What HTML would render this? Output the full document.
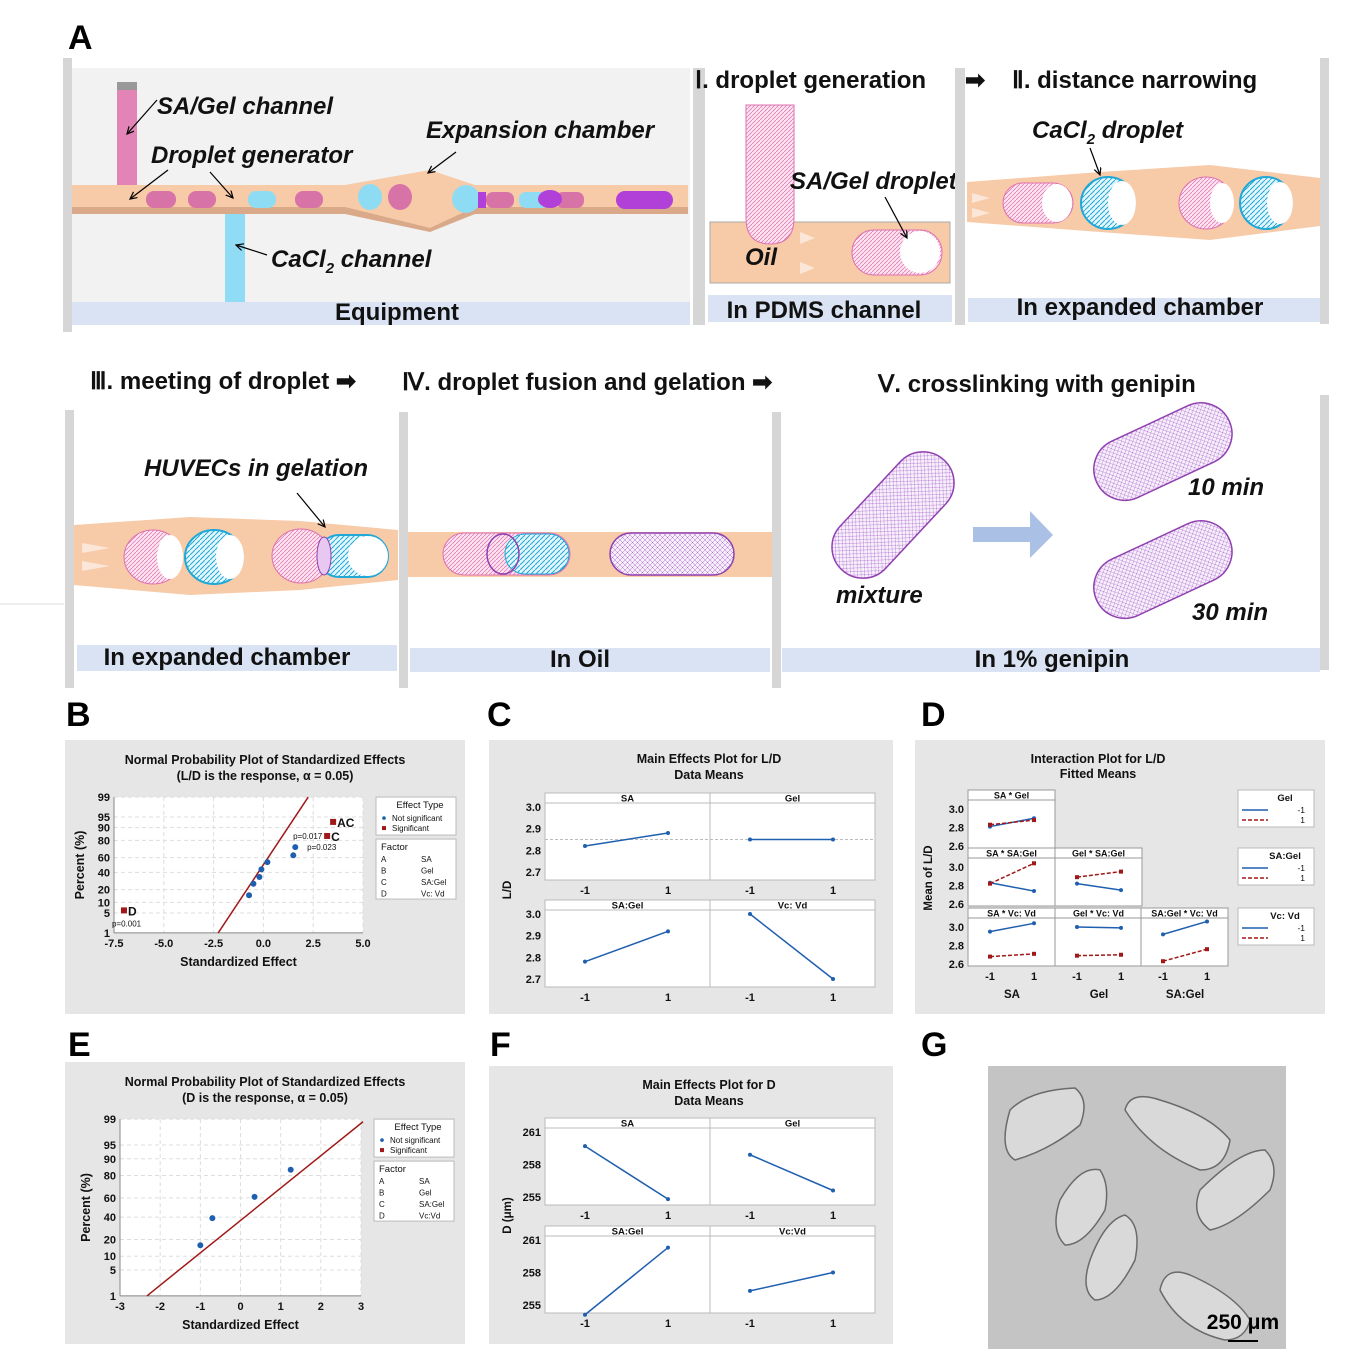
<!DOCTYPE html>
<html><head><meta charset="utf-8">
<style>
html,body{margin:0;padding:0;background:#fff}
svg{display:block;font-family:"Liberation Sans",Arial,sans-serif}
.pl{font-size:34px;font-weight:bold}
.lab{font-size:24px;font-weight:bold;fill:#111}
.it{font-size:24px;font-weight:bold;font-style:italic;fill:#111}
</style></head>
<body>
<svg id="fig" width="1353" height="1349" viewBox="0 0 1353 1349" xmlns="http://www.w3.org/2000/svg">
<defs>
<pattern id="pk" width="4" height="4" patternUnits="userSpaceOnUse"><rect width="4" height="4" fill="#fbe3ef"/><path d="M0 4L4 0" stroke="#e070b0" stroke-width="0.7"/></pattern>
<pattern id="bl" width="5" height="5" patternUnits="userSpaceOnUse"><rect width="5" height="5" fill="#e3f6fc"/><path d="M0 5L5 0" stroke="#20a8d8" stroke-width="1"/></pattern>
<pattern id="pu" width="5" height="5" patternUnits="userSpaceOnUse"><rect width="5" height="5" fill="#f6eefb"/><path d="M0 5L5 0M0 0L5 5" stroke="#b070d0" stroke-width="0.5"/></pattern>
<marker id="ar" markerWidth="8" markerHeight="8" refX="6" refY="3" orient="auto"><path d="M0,0 L6,3 L0,6" fill="none" stroke="#000" stroke-width="1"/></marker>
</defs>

<!-- Panel labels -->
<text class="pl" x="68" y="49">A</text>
<text class="pl" x="66" y="726">B</text>
<text class="pl" x="487" y="726">C</text>
<text class="pl" x="921" y="726">D</text>
<text class="pl" x="68" y="1056">E</text>
<text class="pl" x="490" y="1056">F</text>
<text class="pl" x="921" y="1056">G</text>

<!-- Equipment panel -->
<g>
<rect x="63" y="58" width="9" height="274" fill="#d6d6d6"/>
<rect x="72" y="68" width="618" height="257" fill="#f2f2f2"/>
<rect x="72" y="302" width="618" height="23" fill="#dae3f3"/>
<text class="lab" x="397" y="320" text-anchor="middle">Equipment</text>
<rect x="117" y="82" width="20" height="8" fill="#999"/>
<rect x="117" y="90" width="20" height="98" fill="#e384b6"/>
<rect x="225" y="208" width="20" height="94" fill="#8fdcf4"/>
<polygon points="72,185 345,185 430,170 475,185 688,185 688,212 475,212 430,229 345,212 72,212" fill="#f7caa8"/>
<polygon points="72,207 345,207 430,228 475,207 688,207 688,214 475,214 430,232 345,214 72,214" fill="#d9a98a"/>
<g fill="#d873a8"><rect x="146" y="191" width="30" height="17" rx="8"/><rect x="188" y="191" width="28" height="17" rx="8"/><rect x="295" y="191" width="28" height="17" rx="8"/><ellipse cx="400" cy="197" rx="12" ry="13"/><rect x="486" y="192" width="28" height="16" rx="7"/><rect x="556" y="192" width="28" height="16" rx="7"/></g>
<g fill="#8edcf3"><rect x="248" y="191" width="28" height="17" rx="8"/><ellipse cx="370" cy="197" rx="12" ry="13"/><ellipse cx="466" cy="199" rx="14" ry="14"/><rect x="519" y="192" width="30" height="16" rx="7"/></g>
<g fill="#b040d8"><rect x="478" y="192" width="8" height="16"/><ellipse cx="550" cy="199" rx="12" ry="9"/><rect x="616" y="191" width="57" height="18" rx="9"/></g>
<text class="it" x="157" y="114">SA/Gel channel</text>
<text class="it" x="151" y="163">Droplet generator</text>
<text class="it" x="426" y="138">Expansion chamber</text>
<text class="it" x="271" y="267">CaCl<tspan font-size="15" dy="6">2</tspan><tspan dy="-6"> channel</tspan></text>
<g stroke="#000" stroke-width="1.2" fill="none" marker-end="url(#ar)"><line x1="157" y1="100" x2="127" y2="134"/><line x1="168" y1="170" x2="130" y2="199"/><line x1="210" y1="172" x2="233" y2="198"/><line x1="456" y1="152" x2="428" y2="173"/><line x1="267" y1="255" x2="236" y2="245"/></g>
</g>

<!-- Stage I -->
<g>
<rect x="693" y="68" width="12" height="257" fill="#d6d6d6"/>
<text class="lab" x="695" y="88">Ⅰ. droplet generation</text>
<text class="lab" x="965" y="88">➡</text>
<rect x="710" y="222" width="240" height="61" fill="#f7caa8" stroke="#aaa"/>
<path d="M746 105 H794 V218 Q794 244 770 244 Q746 244 746 218 Z" fill="url(#pk)" stroke="#e070b0"/>
<rect x="852" y="230" width="90" height="45" rx="22" fill="url(#pk)" stroke="#e070b0"/>
<ellipse cx="920" cy="252" rx="20" ry="21" fill="#fff"/>
<g fill="#fbe6d8"><polygon points="800,232 815,238 800,244"/><polygon points="800,262 815,268 800,274"/></g>
<text class="it" x="745" y="265">Oil</text>
<text class="it" x="790" y="189">SA/Gel droplet</text>
<line x1="885" y1="197" x2="907" y2="238" stroke="#000" stroke-width="1.2" marker-end="url(#ar)"/>
<rect x="708" y="295" width="244" height="27" fill="#dae3f3"/>
<text class="lab" x="824" y="318" text-anchor="middle">In PDMS channel</text>
</g>

<!-- Stage II -->
<g>
<rect x="955" y="68" width="10" height="257" fill="#d6d6d6"/>
<rect x="1320" y="58" width="9" height="266" fill="#d6d6d6"/>
<text class="lab" x="1012" y="88">Ⅱ. distance narrowing</text>
<polygon points="967,182 1100,172 1210,165 1320,178 1320,226 1210,240 1100,232 967,222" fill="#f7caa8"/>
<rect x="1003" y="183" width="70" height="40" rx="20" fill="url(#pk)" stroke="#e070b0"/>
<ellipse cx="1057" cy="203" rx="15" ry="19" fill="#fff"/>
<ellipse cx="1108" cy="203" rx="27" ry="26" fill="url(#bl)" stroke="#20a8d8" stroke-width="2"/>
<ellipse cx="1122" cy="203" rx="14" ry="22" fill="#fff"/>
<ellipse cx="1206" cy="203" rx="27" ry="26" fill="url(#pk)" stroke="#e070b0"/>
<ellipse cx="1222" cy="203" rx="12" ry="20" fill="#fff"/>
<ellipse cx="1266" cy="203" rx="26" ry="26" fill="url(#bl)" stroke="#20a8d8" stroke-width="2"/>
<ellipse cx="1280" cy="203" rx="13" ry="21" fill="#fff"/>
<g fill="#fbe6d8"><polygon points="972,193 990,198 972,203"/><polygon points="972,208 990,213 972,218"/></g>
<text class="it" x="1032" y="138">CaCl<tspan font-size="15" dy="6">2</tspan><tspan dy="-6"> droplet</tspan></text>
<line x1="1090" y1="148" x2="1100" y2="175" stroke="#000" stroke-width="1.2" marker-end="url(#ar)"/>
<rect x="968" y="298" width="352" height="24" fill="#dae3f3"/>
<text class="lab" x="1140" y="315" text-anchor="middle">In expanded chamber</text>
</g>

<!-- Row 2 -->
<line x1="0" y1="604" x2="64" y2="604" stroke="#ddd"/>
<g>
<text class="lab" x="90" y="389">Ⅲ.  meeting of droplet ➡</text>
<rect x="65" y="410" width="9" height="278" fill="#d6d6d6"/>
<polygon points="74,525 190,517 300,521 398,530 398,580 300,590 190,595 74,585" fill="#f7caa8"/>
<ellipse cx="153" cy="557" rx="29" ry="27" fill="url(#pk)" stroke="#e070b0"/>
<ellipse cx="170" cy="557" rx="13" ry="22" fill="#fff"/>
<ellipse cx="214" cy="557" rx="29" ry="27" fill="url(#bl)" stroke="#20a8d8" stroke-width="2"/>
<ellipse cx="230" cy="557" rx="14" ry="22" fill="#fff"/>
<ellipse cx="301" cy="556" rx="29" ry="27" fill="url(#pk)" stroke="#e070b0"/>
<rect x="318" y="535" width="70" height="42" rx="21" fill="url(#bl)" stroke="#20a8d8" stroke-width="2"/>
<ellipse cx="324" cy="556" rx="7" ry="19" fill="#e8c8f0" stroke="#9040b0"/>
<ellipse cx="368" cy="556" rx="20" ry="20" fill="#fff"/>
<g fill="#fbe6d8"><polygon points="82,543 110,548 82,553"/><polygon points="82,561 110,566 82,571"/></g>
<text class="it" x="144" y="476">HUVECs in gelation</text>
<line x1="297" y1="493" x2="325" y2="527" stroke="#000" stroke-width="1.2" marker-end="url(#ar)"/>
<rect x="77" y="645" width="320" height="26" fill="#dae3f3"/>
<text class="lab" x="227" y="665" text-anchor="middle">In expanded chamber</text>
</g>
<g>
<text class="lab" x="402" y="390">Ⅳ. droplet fusion and gelation ➡</text>
<rect x="399" y="412" width="9" height="276" fill="#d6d6d6"/>
<rect x="772" y="412" width="9" height="276" fill="#d6d6d6"/>
<rect x="408" y="532" width="364" height="45" fill="#f7caa8"/>
<rect x="443" y="533" width="127" height="42" rx="21" fill="url(#pk)" stroke="#e070b0"/>
<rect x="505" y="534" width="64" height="40" rx="20" fill="url(#bl)" stroke="#20a8d8"/>
<ellipse cx="503" cy="554" rx="16" ry="20" fill="none" stroke="#9040b0" stroke-width="1.5"/>
<rect x="610" y="533" width="124" height="42" rx="21" fill="url(#pu)" stroke="#9040b0" stroke-width="1.5"/>
<rect x="410" y="648" width="360" height="24" fill="#dae3f3"/>
<text class="lab" x="580" y="667" text-anchor="middle">In Oil</text>
</g>
<g>
<text class="lab" x="878" y="392">Ⅴ. crosslinking with genipin</text>
<rect x="1320" y="395" width="9" height="275" fill="#d6d6d6"/>
<rect x="818" y="484" width="150" height="62" rx="31" transform="rotate(-47 893 515)" fill="url(#pu)" stroke="#9040b0" stroke-width="1.5"/>
<rect x="1090" y="421" width="146" height="62" rx="31" transform="rotate(-25 1162 452)" fill="url(#pu)" stroke="#9040b0" stroke-width="1.5"/>
<rect x="1090" y="539" width="146" height="62" rx="31" transform="rotate(-25 1162 570)" fill="url(#pu)" stroke="#9040b0" stroke-width="1.5"/>
<polygon points="973,527 1030,527 1030,511 1053,535 1030,558 1030,542 973,542" fill="#aac0e4"/>
<text class="it" x="836" y="603">mixture</text>
<text class="it" x="1188" y="495">10 min</text>
<text class="it" x="1192" y="620">30 min</text>
<rect x="782" y="648" width="538" height="24" fill="#dae3f3"/>
<text class="lab" x="1052" y="667" text-anchor="middle">In 1% genipin</text>
</g>

<!-- Panel G SEM -->
<g>
<rect x="988" y="1066" width="298" height="283" fill="#c4c4c4"/>
<g fill="#d9d9d9" stroke="#6a6a6a" stroke-width="1.5">
<path d="M1010 1110 Q1030 1090 1075 1088 Q1090 1100 1080 1125 Q1050 1150 1015 1160 Q998 1150 1010 1110 Z"/>
<path d="M1125 1110 Q1130 1090 1160 1100 Q1210 1115 1230 1140 Q1225 1170 1200 1170 Q1150 1150 1125 1110 Z"/>
<path d="M1200 1190 Q1240 1150 1265 1150 Q1280 1165 1270 1190 Q1235 1225 1210 1230 Q1190 1215 1200 1190 Z"/>
<path d="M1060 1200 Q1080 1165 1100 1170 Q1110 1185 1105 1210 Q1085 1245 1065 1245 Q1050 1230 1060 1200 Z"/>
<path d="M1090 1260 Q1105 1220 1125 1215 Q1142 1225 1135 1260 Q1115 1300 1095 1300 Q1080 1290 1090 1260 Z"/>
<path d="M1160 1290 Q1165 1265 1190 1275 Q1235 1295 1250 1320 Q1245 1340 1225 1340 Q1180 1330 1160 1290 Z"/>
</g>
<text x="1243" y="1329" text-anchor="middle" font-size="21" font-weight="bold">250 μm</text>
<line x1="1228" y1="1341" x2="1258" y2="1341" stroke="#000" stroke-width="2"/>
</g>

<g id="charts"></g>
</svg>

<script>
// ---------- data ----------
var bEffects = [-0.72, -0.5, -0.2, -0.1, 0.2, 1.5, 1.6];
var bPercents = [15, 26, 34, 44, 54, 63, 73];
var bSigNames = ["D", "C", "AC"];
var bSigEffects = [-7.0, 3.2, 3.5];
var bSigPercents = [6, 84, 93];
var bSigP = ["p=0.001", "p=0.023", "p=0.017"];
var bLine = [-2.27, 2.25];
var bXTicks = [-7.5, -5.0, -2.5, 0.0, 2.5, 5.0];
var pTicks = [1, 5, 10, 20, 40, 60, 80, 90, 95, 99];

var eEffects = [-1.0, -0.7, 0.35, 1.25];
var ePercents = [16, 39, 61, 84];
var eLineX = [-2.33, 3.05];
var eLineP = [1, 98.8];
var eXTicks = [-3, -2, -1, 0, 1, 2, 3];

var cPanels = ["SA", "Gel", "SA:Gel", "Vc:  Vd"];
var cLow = [2.82, 2.85, 2.78, 3.00];
var cHigh = [2.88, 2.85, 2.92, 2.70];
var cYTicks = [2.7, 2.8, 2.9, 3.0];

var fPanels = ["SA", "Gel", "SA:Gel", "Vc:Vd"];
var fLow = [259.7, 258.9, 254.1, 256.3];
var fHigh = [254.8, 255.6, 260.3, 258.0];
var fYTicks = [255, 258, 261];

var dTitles = ["SA * Gel", "SA * SA:Gel", "Gel * SA:Gel", "SA * Vc:  Vd", "Gel * Vc:  Vd", "SA:Gel * Vc:  Vd"];
var dBlueLow = [2.81, 2.83, 2.82, 2.95, 3.00, 2.92];
var dBlueHigh = [2.90, 2.74, 2.75, 3.04, 2.99, 3.06];
var dRedLow = [2.83, 2.82, 2.89, 2.68, 2.69, 2.63];
var dRedHigh = [2.88, 3.04, 2.95, 2.71, 2.70, 2.76];
var dYTicks = [2.6, 2.8, 3.0];

// ---------- helpers ----------
var NS = "http://www.w3.org/2000/svg";
var root = document.getElementById("charts");
function mk(tag, a, p) {
  var e = document.createElementNS(NS, tag);
  for (var k in a) e.setAttribute(k, a[k]);
  (p || root).appendChild(e);
  return e;
}
function tx(s, x, y, size, p, anchor, bold) {
  var t = mk("text", {x: x, y: y, "font-size": size, "text-anchor": anchor || "middle", "font-weight": bold ? "bold" : "normal", fill: "#111"}, p);
  t.textContent = s;
  return t;
}
function erf(x) { var s = x < 0 ? -1 : 1; x = Math.abs(x); var t = 1 / (1 + 0.3275911 * x);
  var y = 1 - (((((1.061405429 * t - 1.453152027) * t) + 1.421413741) * t - 0.284496736) * t + 0.254829592) * t * Math.exp(-x * x); return s * y; }
function qnorm(p) { var lo = -6, hi = 6; for (var i = 0; i < 60; i++) { var m = (lo + hi) / 2; if (0.5 * (1 + erf(m / Math.SQRT2)) < p) lo = m; else hi = m; } return (lo + hi) / 2; }

// ---------- probability plot ----------
function probPlot(g, box, title2, xTicks, xMin, xMax, mid, k) {
  mk("rect", {x: box[0], y: box[1], width: box[2], height: box[3], fill: "#e6e6e6"}, g);
  tx("Normal Probability Plot of Standardized Effects", box[0] + 200, box[1] + 24, 12.5, g, "middle", true);
  tx(title2, box[0] + 200, box[1] + 40, 12.5, g, "middle", true);
  var px = [box[4], box[5]];
  var sx = function (v) { return px[0] + (v - xMin) / (xMax - xMin) * (px[1] - px[0]); };
  var sy = function (p) { return mid - qnorm(p / 100) * k; };
  var top = sy(99), bot = sy(1);
  mk("rect", {x: px[0], y: top, width: px[1] - px[0], height: bot - top, fill: "#fff"}, g);
  xTicks.forEach(function (v) {
    mk("line", {x1: sx(v), x2: sx(v), y1: top, y2: bot, stroke: "#ddd", "stroke-dasharray": "4,3"}, g);
    tx(v.toFixed(xMin === -7.5 ? 1 : 0), sx(v), bot + 14, 11, g, "middle", true);
  });
  pTicks.forEach(function (p) {
    mk("line", {x1: px[0], x2: px[1], y1: sy(p), y2: sy(p), stroke: "#ddd", "stroke-dasharray": "4,3"}, g);
    tx(String(p), px[0] - 4, sy(p) + 4, 11, g, "end", true);
  });
  mk("line", {x1: px[0], x2: px[1], y1: bot, y2: bot, stroke: "#888"}, g);
  mk("line", {x1: px[0], x2: px[0], y1: top, y2: bot, stroke: "#888"}, g);
  tx("Standardized Effect", (px[0] + px[1]) / 2, bot + 33, 12.5, g, "middle", true);
  var yl = tx("Percent (%)", 0, 0, 12.5, g, "middle", true);
  yl.setAttribute("transform", "translate(" + (px[0] - 30) + "," + ((top + bot) / 2) + ") rotate(-90)");
  var lx = px[1] + 13;
  mk("rect", {x: lx, y: top, width: 80, height: 38, fill: "#fff", stroke: "#bbb"}, g);
  tx("Effect Type", lx + 44, top + 11, 9.5, g);
  mk("circle", {cx: lx + 8, cy: top + 21, r: 1.8, fill: "#1f5fb0"}, g);
  tx("Not significant", lx + 16, top + 24, 8, g, "start");
  mk("rect", {x: lx + 6, y: top + 29, width: 4, height: 4, fill: "#a01818"}, g);
  tx("Significant", lx + 16, top + 34, 8, g, "start");
  mk("rect", {x: lx, y: top + 42, width: 80, height: 60, fill: "#fff", stroke: "#bbb"}, g);
  tx("Factor", lx + 5, top + 53, 9.5, g, "start");
  var fac = ["A", "B", "C", "D"], nm = ["SA", "Gel", "SA:Gel", xMin === -7.5 ? "Vc:  Vd" : "Vc:Vd"];
  for (var i = 0; i < 4; i++) { tx(fac[i], lx + 5, top + 65 + i * 11.5, 8, g, "start"); tx(nm[i], lx + 45, top + 65 + i * 11.5, 8, g, "start"); }
  return {sx: sx, sy: sy};
}

// B
var gB = mk("g", {});


var axB = probPlot(gB, [65, 740, 400, 274, 114, 363], "(L/D is the response, α = 0.05)", bXTicks, -7.5, 5.0, 865, 29.2);
var lnB = mk("line", {x1: axB.sx(bLine[0]), y1: axB.sy(1), x2: axB.sx(bLine[1]), y2: axB.sy(99), stroke: "#a01818", "stroke-width": 1.5}, gB);


bEffects.forEach(function (v, i) {
  var c = mk("circle", {cx: axB.sx(v), cy: axB.sy(bPercents[i]), r: 3, fill: "#1f5fb0"}, gB);
  
  
});
bSigEffects.forEach(function (v, i) {
  var x = axB.sx(v), y = axB.sy(bSigPercents[i]);
  var r = mk("rect", {x: x - 3, y: y - 3, width: 6, height: 6, fill: "#a01818"}, gB);
  
  
  tx(bSigNames[i], x + 4, y + 5, 12, gB, "start", true);
  var off = i === 0 ? [-12, 16] : (i === 1 ? [-20, 14] : [-40, 17]);
  tx(bSigP[i], x + off[0], y + off[1], 8, gB, "start");
});

// E
var gE = mk("g", {});


var axE = probPlot(gE, [65, 1062, 400, 282, 120, 361], "(D is the response, α = 0.05)", eXTicks, -3, 3, 1207.5, 38);
var lnE = mk("line", {x1: axE.sx(eLineX[0]), y1: axE.sy(eLineP[0]), x2: axE.sx(eLineX[1]), y2: axE.sy(eLineP[1]), stroke: "#a01818", "stroke-width": 1.5}, gE);


eEffects.forEach(function (v, i) {
  var c = mk("circle", {cx: axE.sx(v), cy: axE.sy(ePercents[i]), r: 3, fill: "#1f5fb0"}, gE);
  
  
});

// ---------- main effects ----------
function mainEffects(g, box, title, names, lo, hi, ticks, cells, yMin, yMax, ref, yTitle) {
  mk("rect", {x: box[0], y: box[1], width: box[2], height: box[3], fill: "#e6e6e6"}, g);
  tx(title, box[0] + 220, box[1] + 23, 12.5, g, "middle", true);
  tx("Data Means", box[0] + 220, box[1] + 39, 12.5, g, "middle", true);
  for (var i = 0; i < 4; i++) {
    var c = cells[i];
    mk("rect", {x: c[0], y: c[1], width: c[2], height: c[3], fill: "#fff", stroke: "#bbb"}, g);
    mk("rect", {x: c[0], y: c[1], width: c[2], height: 10, fill: "#fff", stroke: "#bbb"}, g);
    tx(names[i], c[0] + c[2] / 2, c[1] + 8.5, 9.5, g, "middle", true);
    var y0 = c[1] + 14, y1 = c[1] + c[3] - 8;
    var sy = function (v) { return y1 - (v - yMin) / (yMax - yMin) * (y1 - y0); };
    var xl = c[0] + 40, xh = c[0] + 123;
    if (ref !== null && i < 2) mk("line", {x1: c[0], x2: c[0] + c[2], y1: sy(ref), y2: sy(ref), stroke: "#bbb", "stroke-dasharray": "3,2"}, g);
    if (i % 2 === 0) ticks.forEach(function (t) { tx(yMin < 10 ? t.toFixed(1) : String(t), c[0] - 4, sy(t) + 4, 11, g, "end", true); });
    tx("-1", xl, c[1] + c[3] + 14, 11, g, "middle", true);
    tx("1", xh, c[1] + c[3] + 14, 11, g, "middle", true);
    var ln = mk("line", {x1: xl, y1: sy(lo[i]), x2: xh, y2: sy(hi[i]), stroke: "#1f5fb0", "stroke-width": 1.5}, g);
    
    
    mk("circle", {cx: xl, cy: sy(lo[i]), r: 2, fill: "#1f5fb0"}, g);
    mk("circle", {cx: xh, cy: sy(hi[i]), r: 2, fill: "#1f5fb0"}, g);
  }
  var yt = tx(yTitle, 0, 0, 11.5, g, "middle", true);
  yt.setAttribute("transform", "translate(" + (box[0] + 22) + "," + ((cells[0][1] + cells[2][1] + cells[2][3]) / 2) + ") rotate(-90)");
}
var gC = mk("g", {});


mainEffects(gC, [489, 740, 404, 274], "Main Effects Plot for L/D", cPanels, cLow, cHigh, cYTicks,
  [[545, 793, 165, 87], [710, 793, 165, 87], [545, 900, 165, 87], [710, 900, 165, 87]], 2.7, 3.0, 2.85, "L/D");
var gF = mk("g", {});


mainEffects(gF, [489, 1066, 404, 278], "Main Effects Plot for D", fPanels, fLow, fHigh, fYTicks,
  [[545, 1118, 165, 87], [710, 1118, 165, 87], [545, 1226, 165, 87], [710, 1226, 165, 87]], 255, 261, null, "D (μm)");

// ---------- interaction plot ----------
var gD = mk("g", {});


mk("rect", {x: 915, y: 740, width: 410, height: 274, fill: "#e6e6e6"}, gD);
tx("Interaction Plot for L/D", 1098, 763, 12.5, gD, "middle", true);
tx("Fitted Means", 1098, 778, 12.5, gD, "middle", true);
var cols = [968, 1055, 1141], rows = [790, 848, 908], cw = 87, ch = 58;
var cellPos = [[0, 0], [0, 1], [1, 1], [0, 2], [1, 2], [2, 2]];
cellPos.forEach(function (cp, i) {
  var x0 = cols[cp[0]], y0 = rows[cp[1]];
  mk("rect", {x: x0, y: y0, width: cw, height: ch, fill: "#fff", stroke: "#999"}, gD);
  mk("line", {x1: x0, x2: x0 + cw, y1: y0 + 10, y2: y0 + 10, stroke: "#999"}, gD);
  tx(dTitles[i], x0 + cw / 2, y0 + 8.5, 9, gD, "middle", true);
  var sy = function (v) { return y0 + ch - 2 - (v - 2.6) / 0.4 * (ch - 21); };
  var xl = x0 + 22, xh = x0 + 66;
  if (cp[0] === 0) dYTicks.forEach(function (t) { tx(t.toFixed(1), x0 - 4, sy(t) + 4, 11, gD, "end", true); });
  var b = mk("line", {x1: xl, y1: sy(dBlueLow[i]), x2: xh, y2: sy(dBlueHigh[i]), stroke: "#1f5fb0", "stroke-width": 1.5}, gD);
  
  
  var r = mk("line", {x1: xl, y1: sy(dRedLow[i]), x2: xh, y2: sy(dRedHigh[i]), stroke: "#a01818", "stroke-width": 1.5, "stroke-dasharray": "4,2"}, gD);
  
  
  [[xl, dBlueLow[i]], [xh, dBlueHigh[i]]].forEach(function (p) { mk("circle", {cx: p[0], cy: sy(p[1]), r: 2, fill: "#1f5fb0"}, gD); });
  [[xl, dRedLow[i]], [xh, dRedHigh[i]]].forEach(function (p) { mk("rect", {x: p[0] - 2, y: sy(p[1]) - 2, width: 4, height: 4, fill: "#a01818"}, gD); });
});
cols.forEach(function (x0, j) {
  tx("-1", x0 + 22, 980, 11, gD, "middle", true);
  tx("1", x0 + 66, 980, 11, gD, "middle", true);
  tx(["SA", "Gel", "SA:Gel"][j], x0 + 44, 998, 11.5, gD, "middle", true);
});
var dy = tx("Mean of L/D", 0, 0, 11.5, gD, "middle", true);
dy.setAttribute("transform", "translate(932,878) rotate(-90)");
["Gel", "SA:Gel", "Vc:  Vd"].forEach(function (n, j) {
  var y0 = rows[j];
  mk("rect", {x: 1238, y: y0, width: 76, height: 37, fill: "#fff", stroke: "#bbb"}, gD);
  tx(n, 1285, y0 + 11, 9.5, gD, "middle", true);
  mk("line", {x1: 1242, x2: 1268, y1: y0 + 20, y2: y0 + 20, stroke: "#1f5fb0", "stroke-width": 1.5}, gD);
  mk("line", {x1: 1242, x2: 1268, y1: y0 + 30, y2: y0 + 30, stroke: "#a01818", "stroke-width": 1.5, "stroke-dasharray": "4,2"}, gD);
  tx("-1", 1305, y0 + 23, 8.5, gD, "end");
  tx("1", 1305, y0 + 33, 8.5, gD, "end");
});
</script>
</body></html>
